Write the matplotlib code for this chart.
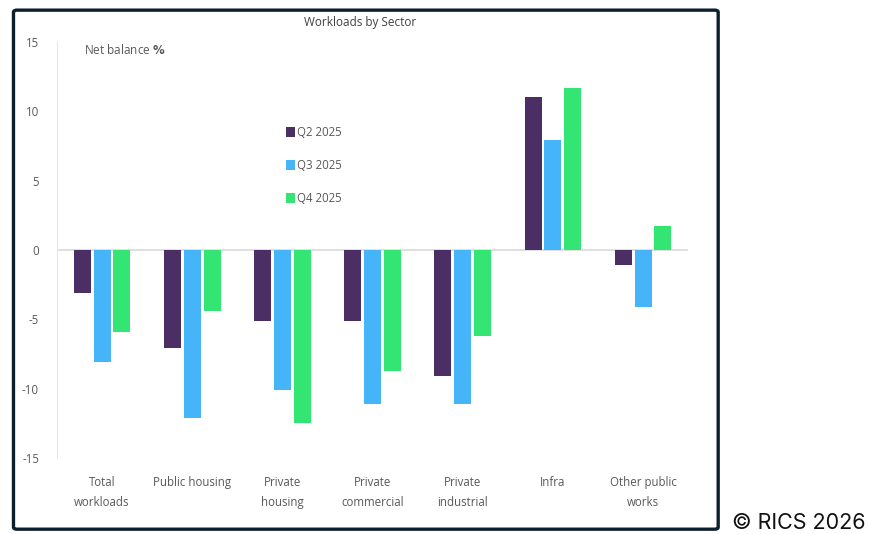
import numpy as np
import matplotlib.pyplot as plt
from matplotlib.patches import FancyBboxPatch

sectors = ['Total\nworkloads', 'Public housing', 'Private\nhousing', 'Private\ncommercial',
           'Private\nindustrial', 'Infra', 'Other public\nworks']
q2_2025 = [-3.1, -7.1, -5.1, -5.1, -9.1, 11.0, -1.1]
q3_2025 = [-8.1, -12.1, -10.1, -11.1, -11.1, 7.9, -4.1]
q4_2025 = [-5.9, -4.4, -12.5, -8.7, -6.2, 11.7, 1.7]
series_names = ['Q2 2025', 'Q3 2025', 'Q4 2025']

colors = ['#4b2e63', '#45b4f8', '#33e673']
txt_col = '#595959'

plt.rcParams['font.family'] = ['Open Sans', 'DejaVu Sans']

fig = plt.figure(figsize=(8.7, 5.34), dpi=100)
ax = fig.add_axes([0.0655, 0.1423, 0.7255, 0.779])

x = np.arange(len(sectors))
w = 0.19
step = 0.22
for i, vals in enumerate([q2_2025, q3_2025, q4_2025]):
    ax.bar(x + (i - 1) * step, vals, width=w, color=colors[i], label=series_names[i], zorder=3)

ax.axhline(0, color='#d9d9d9', lw=1.2, zorder=2)
ax.set_xlim(-0.5, len(sectors) - 0.5)
ax.set_ylim(-15, 15)
ax.set_yticks([-15, -10, -5, 0, 5, 10, 15])
ax.set_yticklabels(['-15', '-10', '-5', '0', '5', '10', '15'])
ax.set_xticks(x)
ax.set_xticklabels(sectors, fontsize=8.3, color=txt_col, linespacing=1.7)
ax.tick_params(axis='both', length=0, labelsize=8.3, labelcolor=txt_col)
ax.tick_params(axis='x', pad=13)
ax.tick_params(axis='y', pad=13)
for s in ['top', 'right', 'bottom']:
    ax.spines[s].set_visible(False)
ax.spines['left'].set_color('#e6e6e6')

ax.text(0.043, 0.998, 'Net balance $\\bf{\\%}$', transform=ax.transAxes, fontsize=8.5,
        color=txt_col, va='top')

leg = ax.legend(loc='upper left', bbox_to_anchor=(0.356, 0.81), frameon=False, fontsize=8.3,
                handlelength=0.75, handleheight=1.0, handletextpad=0.2, labelspacing=1.75,
                borderaxespad=0)
for t in leg.get_texts():
    t.set_color(txt_col)

fig.text(0.414, 0.958, 'Workloads by Sector', ha='center', va='center', fontsize=8.5,
         color='#404040')

border = FancyBboxPatch((0.0155, 0.009), 0.81, 0.972, boxstyle='round,pad=0,rounding_size=0.004',
                        transform=fig.transFigure, fill=False, ec='#0d1f2d', lw=2.4)
fig.patches.append(border)

fig.text(0.841, 0.002, '\u00a9 RICS 2026', fontsize=15.5, color='#111111',
         family=['Inter', 'DejaVu Sans'], va='bottom', ha='left')

fig.savefig('out.png', dpi=100)
